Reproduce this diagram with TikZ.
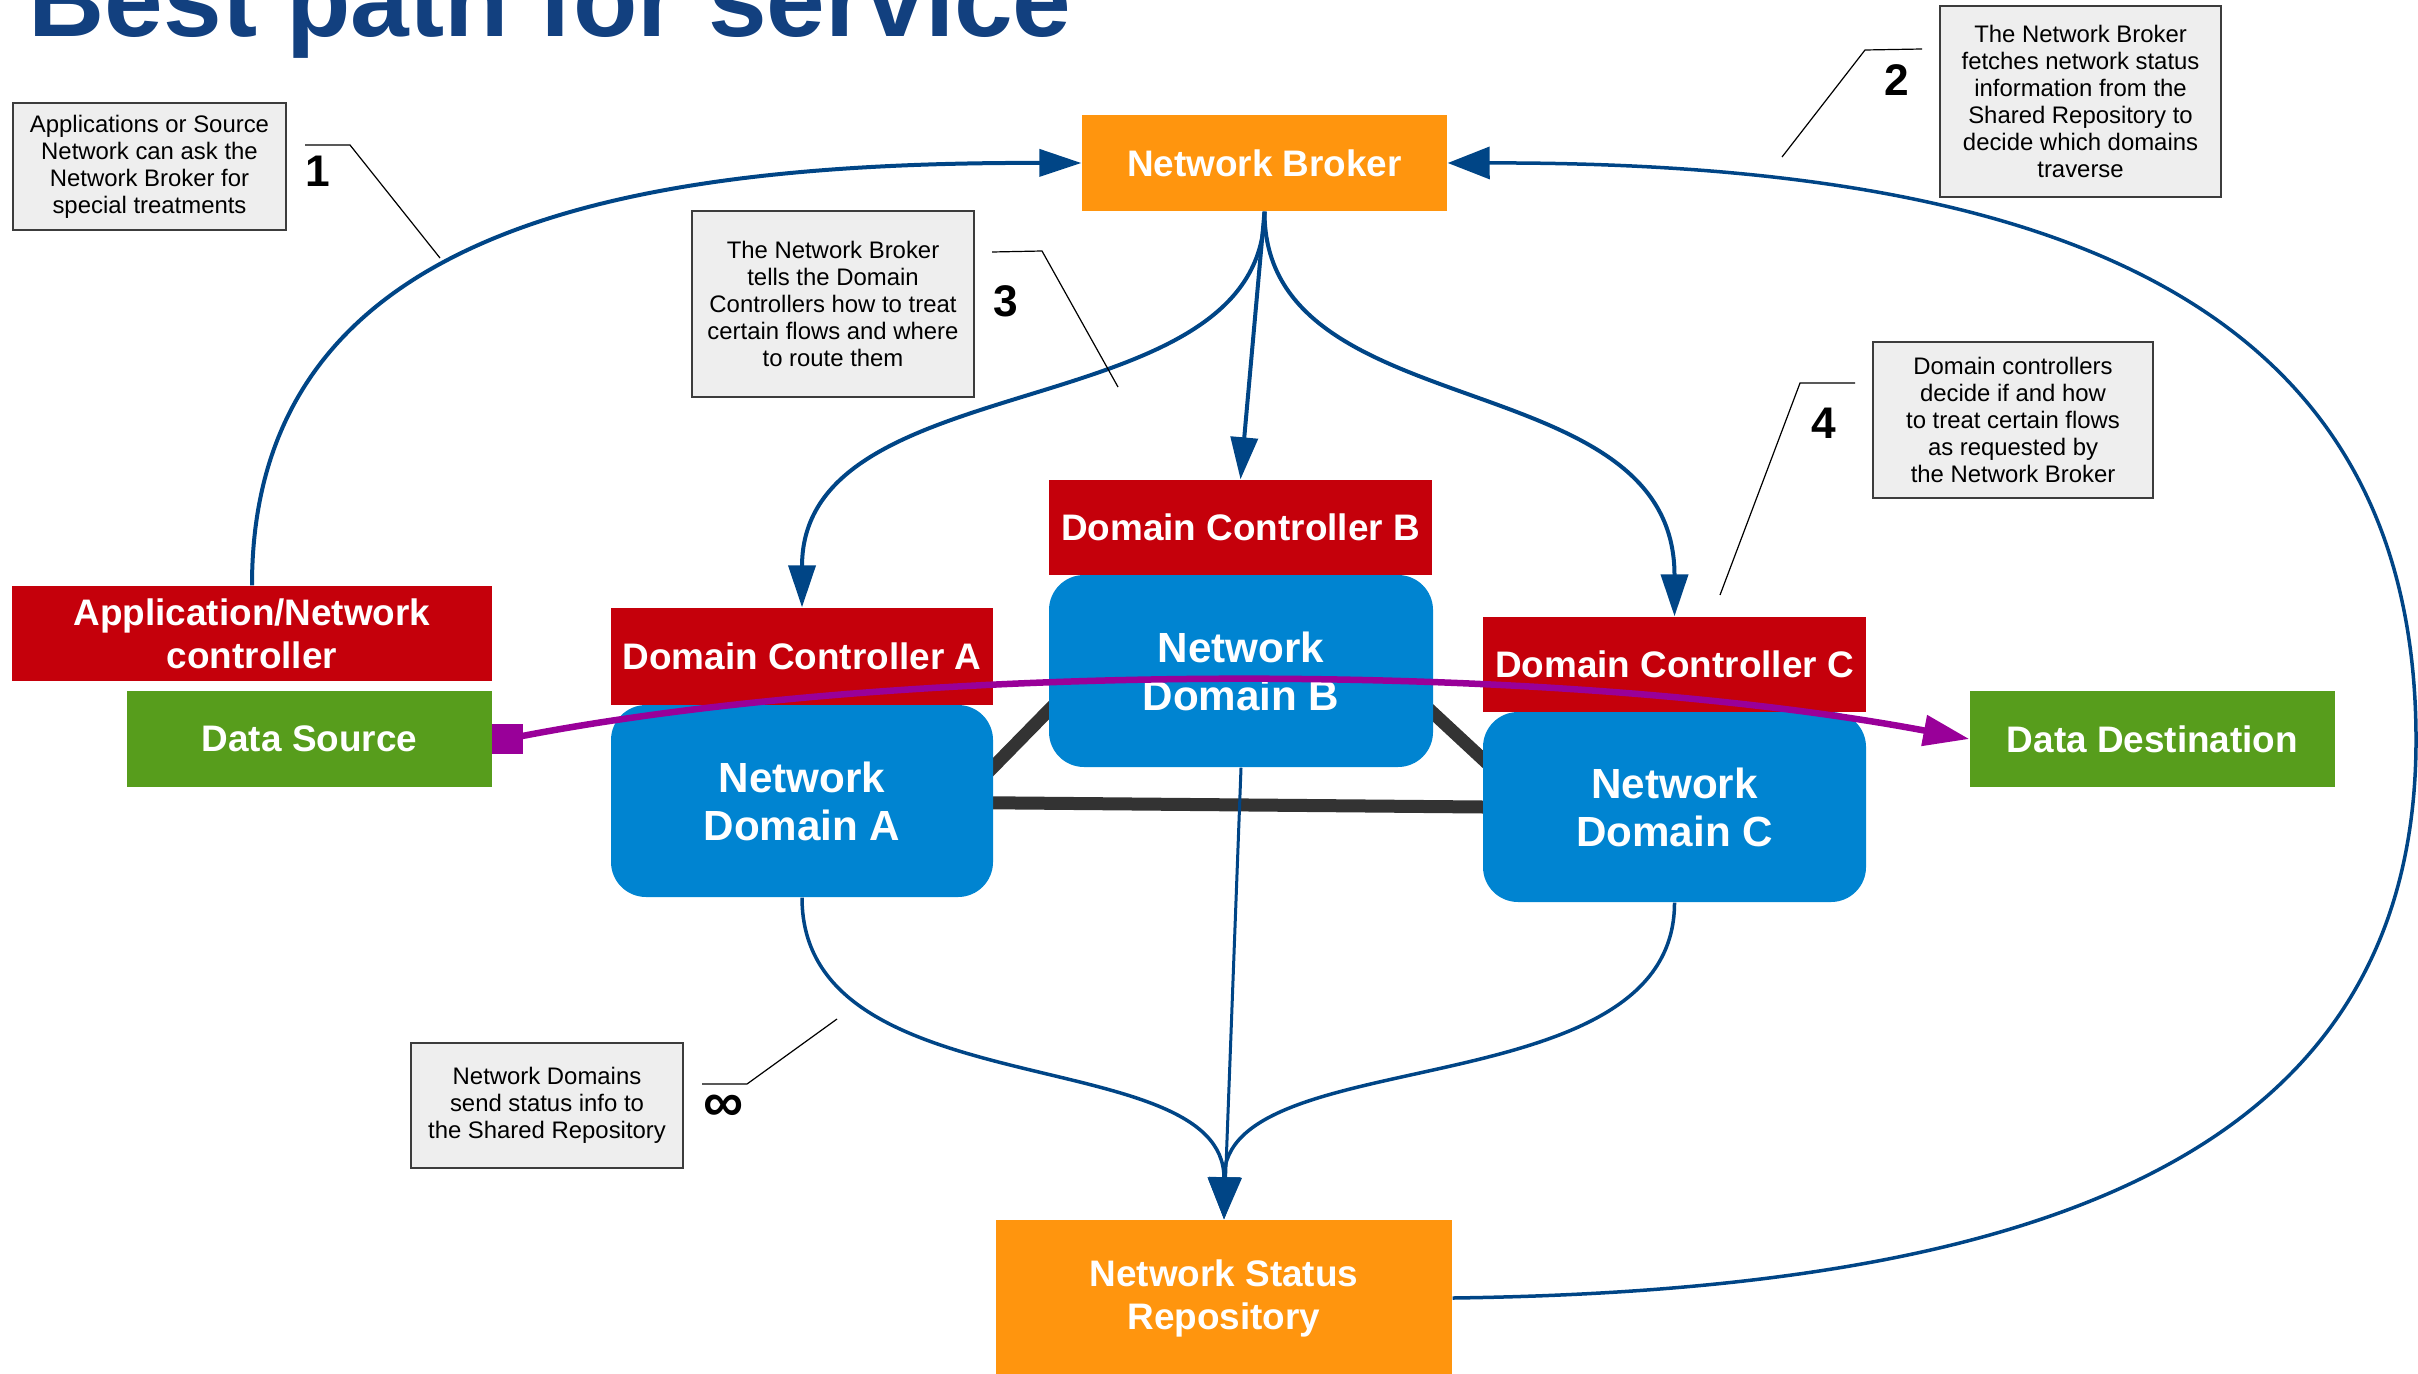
\documentclass[tikz,border=0pt]{standalone}
\usepackage{fontspec}
\setmainfont{Liberation Sans}
\usetikzlibrary{arrows.meta}
\definecolor{cOrange}{HTML}{FF950E}
\definecolor{cRed}{HTML}{C5000B}
\definecolor{cGreen}{HTML}{579D1C}
\definecolor{cBlue}{HTML}{0084D1}
\definecolor{cLink}{HTML}{004586}
\definecolor{cPurple}{HTML}{990099}
\definecolor{cTitle}{HTML}{12407F}
\definecolor{cNote}{HTML}{EEEEEE}
\definecolor{cNoteBorder}{HTML}{3C3C3C}
\definecolor{cDark}{HTML}{333333}
\begin{document}
\begin{tikzpicture}[x=0.1mm,y=-0.1mm,
  box/.style={inner sep=0pt, align=center, text=white, font=\bfseries\fontsize{10.5}{12.2}\selectfont},
  brokerbox/.style={box, fill=cOrange},
  ctrlbox/.style={box, fill=cRed},
  srcbox/.style={box, fill=cGreen},
  domainbox/.style={box, fill=cBlue, rounded corners=3.5mm, font=\bfseries\fontsize{12}{13.7}\selectfont},
  note/.style={draw=cNoteBorder, line width=0.15mm, fill=cNote, inner sep=0pt, align=center, font=\fontsize{6.8}{7.7}\selectfont},
  numlabel/.style={inner sep=0pt, font=\bfseries\fontsize{12.6}{14}\selectfont},
  leader/.style={draw=black, line width=0.12mm},
  flow/.style={draw=cLink, line width=0.4mm, -{Triangle[length=4.2mm,width=2.7mm]}},
  repoflow/.style={draw=cLink, line width=0.35mm, -{Triangle[length=4.2mm,width=3.2mm]}},
  darklink/.style={draw=cDark, line width=1.3mm},
  dataflow/.style={draw=cPurple, line width=0.65mm, -{Triangle[length=4.6mm,width=3.0mm]}}
]
\useasboundingbox (0,0) rectangle (2418,1373);

% title
\node[anchor=base west, inner sep=0pt, text=cTitle, font=\bfseries\fontsize{30}{36}\selectfont] (title) at (28,37) {Best path for service};

% dark links between domains (behind)
\coordinate (ab1) at (950,811);
\coordinate (ab2) at (1100,658);
\coordinate (bc1) at (1390,673);
\coordinate (bc2) at (1530,803);
\coordinate (ac1) at (900,802);
\coordinate (ac2) at (1600,808);
\draw[darklink] (ab1) -- (ab2);
\draw[darklink] (bc1) -- (bc2);
\draw[darklink] (ac1) -- (ac2);

% main boxes
\node[brokerbox, minimum width=36.5mm, minimum height=9.6mm] (broker) at (1264.5,163) {Network Broker};
\node[domainbox, minimum width=38.4mm, minimum height=19.2mm] (ndB) at (1241,671) {Network\\Domain B};
\node[ctrlbox, minimum width=38.3mm, minimum height=9.5mm] (dcB) at (1240.5,527.5) {Domain Controller B};
\node[domainbox, minimum width=38.2mm, minimum height=19.2mm] (ndA) at (802,801) {Network\\Domain A};
\node[ctrlbox, minimum width=38.2mm, minimum height=9.7mm] (dcA) at (802,656.5) {Domain Controller A};
\node[domainbox, minimum width=38.3mm, minimum height=19.0mm] (ndC) at (1674.5,807) {Network\\Domain C};
\node[ctrlbox, minimum width=38.3mm, minimum height=9.5mm] (dcC) at (1674.5,664.5) {Domain Controller C};
\node[ctrlbox, minimum width=48mm, minimum height=9.5mm] (app) at (252,633.5) {Application/Network\\controller};
\node[srcbox, minimum width=36.5mm, minimum height=9.6mm] (src) at (309.5,739) {Data Source};
\node[srcbox, minimum width=36.5mm, minimum height=9.6mm] (dst) at (2152.5,739) {Data Destination};
\node[brokerbox, minimum width=45.6mm, minimum height=15.6mm] (repo) at (1224,1298) {Network Status\\Repository};

% blue connectors
\draw[flow] (app.north) .. controls (252,230) and (620,162) .. (broker.west);
\draw[repoflow] (repo.east) .. controls (2050,1290) and (2416,1150) .. (2416,740) .. controls (2416,300) and (2050,162) .. (broker.east);
\draw[flow] (broker.south) .. controls (1264,430) and (802,360) .. (dcA.north);
\draw[flow] (broker.south) -- (dcB.north);
\draw[flow] (broker.south) .. controls (1264,430) and (1674.5,360) .. (dcC.north);
\draw[repoflow] (ndA.south) .. controls (802,1110) and (1224,1040) .. (repo.north);
\draw[repoflow, line width=0.3mm] (ndB.south) -- (repo.north);
\draw[repoflow] (ndC.south) .. controls (1674.5,1110) and (1224,1040) .. (repo.north);

% data path
\node[fill=cPurple, minimum width=3.1mm, minimum height=3.0mm, inner sep=0pt] (sq) at (507,739) {};
\draw[dataflow] (sq.center) .. controls (900,660) and (1550,660) .. (dst.west);

% notes
\node[note, minimum width=27.3mm, minimum height=12.7mm] (n1) at (149.5,166.5) {Applications or Source\\Network can ask the\\Network Broker for\\special treatments};
\node[note, minimum width=28.1mm, minimum height=19.1mm] (n2) at (2080.5,101.5) {The Network Broker\\fetches network status\\information from the\\Shared Repository to\\decide which domains\\traverse};
\node[note, minimum width=28.2mm, minimum height=18.6mm] (n3) at (833,304) {The Network Broker\\tells the Domain\\Controllers how to treat\\certain flows and where\\to route them};
\node[note, minimum width=28.0mm, minimum height=15.6mm] (n4) at (2013,420) {Domain controllers\\decide if and how\\to treat certain flows\\as requested by\\the Network Broker};
\node[note, minimum width=27.2mm, minimum height=12.5mm] (n5) at (547,1105.5) {Network Domains\\send status info to\\the Shared Repository};

% number labels
\node[numlabel] (l1) at (318,171) {1};
\node[numlabel] (l2) at (1897,80) {2};
\node[numlabel] (l3) at (1006,301) {3};
\node[numlabel] (l4) at (1824,423) {4};
\node[numlabel, font=\bfseries\fontsize{16}{18}\selectfont] (l5) at (724,1108) {∞};

% leader lines
\coordinate (L1a) at (305,145); \coordinate (L1b) at (350,145); \coordinate (L1c) at (440,258);
\coordinate (L2a) at (1922,49); \coordinate (L2b) at (1865,50); \coordinate (L2c) at (1782,157);
\coordinate (L3a) at (992,252); \coordinate (L3b) at (1042,251); \coordinate (L3c) at (1118,387);
\coordinate (L4a) at (1855,383); \coordinate (L4b) at (1800,383); \coordinate (L4c) at (1720,595);
\coordinate (L5a) at (702,1084); \coordinate (L5b) at (747,1084); \coordinate (L5c) at (837,1019);
\draw[leader] (L1a) -- (L1b) -- (L1c);
\draw[leader] (L2a) -- (L2b) -- (L2c);
\draw[leader] (L3a) -- (L3b) -- (L3c);
\draw[leader] (L4a) -- (L4b) -- (L4c);
\draw[leader] (L5a) -- (L5b) -- (L5c);
\end{tikzpicture}
\end{document}
